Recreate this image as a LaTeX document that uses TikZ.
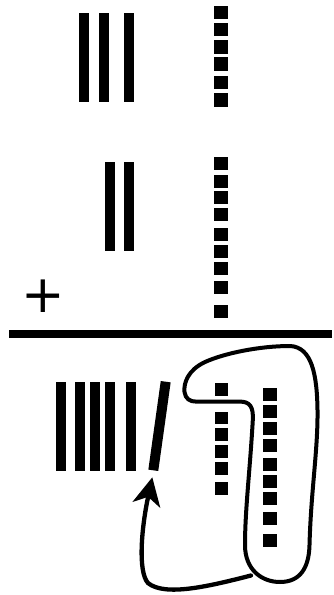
\documentclass[tikz,border=0pt]{standalone}
\usepackage{fontspec}
\newfontfamily\plusfont{DejaVu Sans}
\usetikzlibrary{arrows.meta}
\tikzset{
  tally/.style={fill=black},
  unitsq/.style={fill=black},
  loopline/.style={line width=4pt, line join=round, line cap=round},
  carry/.style={line width=4.3pt, line cap=round, -{Stealth[length=28pt,width=28pt,inset=8pt]}},
}
\begin{document}
\begin{tikzpicture}[x=1pt,y=-1pt]
\useasboundingbox (0,0) rectangle (333,595);
% top row: 3 tens, 6 ones
\foreach \a/\b in {79.3/89.3, 98.7/108.7, 124/134}
  \fill[tally] (\a,12.7) rectangle (\b,101.7);
\foreach \t in {5.7,23,40.3,57.3,76,93.3}
  \fill[unitsq] (214.3,\t) rectangle ++(13.4,13.3);
% middle row: 2 tens, 9 ones
\foreach \a/\b in {105.3/115, 124.3/134}
  \fill[tally] (\a,161.7) rectangle (\b,250.7);
\foreach \t in {157.3,174.7,191.3,208.3,227.7,245,261.7,281,304.7}
  \fill[unitsq] (214.3,\t) rectangle ++(13.4,12.8);
% plus sign
\node[inner sep=0pt, font=\plusfont\fontsize{52}{52}\selectfont] (plus) at (42.8,296.5) {+};
% sum line
\fill (9.3,330) rectangle (331.7,338.3);
% result row
\foreach \a/\b in {56/65.7, 75/84.7, 90.3/100, 105.3/115, 126.3/136}
  \fill[tally] (\a,381.7) rectangle (\b,470.7);
\coordinate (newtop) at (165.7,381.7);
\coordinate (newbot) at (153.3,470.3);
\draw[line width=10pt] (newtop) -- (newbot);
\foreach \t in {383.3,411.7,428.3,445.3,462,482.3}
  \fill[unitsq] (215,\t) rectangle ++(12.7,12.7);
\foreach \t in {388.3,405,421.7,439,458.3,475,491.7,511.7,534.3}
  \fill[unitsq] (263.3,\t) rectangle ++(13.4,12.9);
% loop around ten ones
\draw[loopline] (196,401.6) -- (240,401.6)
  .. controls (250,401.6) and (253.5,407) .. (252.8,420)
  .. controls (250,470) and (245,510) .. (245,545)
  .. controls (245,570) and (262,582) .. (280,582)
  .. controls (300,582) and (309,568) .. (309.5,545)
  .. controls (311,490) and (318,450) .. (317.5,410)
  .. controls (317,375) and (312,347) .. (290,346)
  .. controls (260,346) and (225,353) .. (205,362)
  .. controls (188,370) and (183.5,383) .. (184.5,392)
  .. controls (185.5,399) and (190,401.6) .. (196,401.6) -- cycle;
% carry arrow
\coordinate (carrystart) at (251,575.5);
\coordinate (carrytip) at (152.3,477.3);
\draw[carry] (carrystart) .. controls (210,586) and (165,597) .. (148,583)
  .. controls (138,572) and (141,530) .. (carrytip);
\end{tikzpicture}
\end{document}
